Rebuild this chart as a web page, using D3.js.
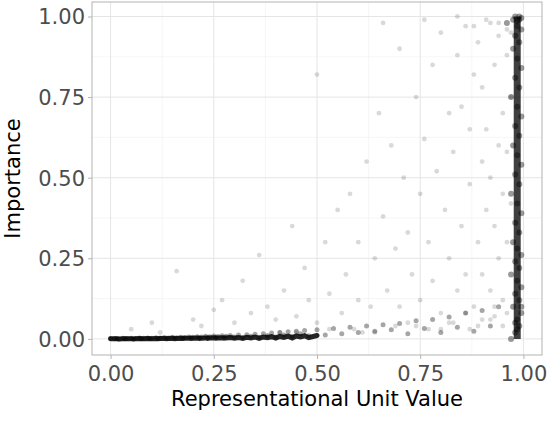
<!DOCTYPE html>
<html><head><script src="https://cdn.jsdelivr.net/npm/d3@7"></script>
<style>body{margin:0;background:#fff}</style></head><body>
<svg id="c" width="548" height="446"></svg>
<script>
const bandX=[0.00,0.01,0.015,0.02,0.03,0.035,0.04,0.05,0.055,0.06,0.07,0.075,0.08,0.09,0.095,0.10,0.11,0.115,0.12,0.13,0.135,0.14,0.15,0.155,0.16,0.17,0.175,0.18,0.19,0.195,0.20,0.21,0.215,0.22,0.23,0.235,0.24,0.25,0.255,0.26,0.27,0.275,0.28,0.29,0.30,0.31,0.32,0.33,0.34,0.35,0.36,0.37,0.38,0.39,0.40,0.41,0.42,0.43,0.44,0.45,0.46,0.47,0.48,0.50,0.52,0.54,0.56,0.58,0.60,0.62,0.64,0.66,0.68,0.70,0.72,0.74,0.76,0.78,0.80,0.82,0.84,0.86,0.88,0.90,0.92,0.94];
const bandY=[0.002,0.001,0.003,0.0,0.004,0.001,0.002,0.005,0.0,0.003,0.006,0.001,0.004,0.007,0.002,0.005,0.008,0.003,0.006,0.01,0.004,0.007,0.012,0.005,0.009,0.013,0.006,0.011,0.015,0.008,0.012,0.017,0.009,0.014,0.02,0.011,0.016,0.022,0.013,0.018,0.025,0.012,0.02,0.027,0.015,0.03,0.01,0.033,0.02,0.036,0.012,0.04,0.025,0.045,0.015,0.05,0.03,0.055,0.02,0.06,0.04,0.065,0.025,0.07,0.03,0.08,0.04,0.09,0.05,0.1,0.06,0.11,0.07,0.12,0.04,0.14,0.08,0.15,0.05,0.17,0.09,0.2,0.06,0.22,0.1,0.25];
const edgeX=[0.97,0.98,0.99,0.985,0.995,0.975,0.99,0.98,0.995,0.985,0.97,0.99,0.98,0.995,0.985,0.975,0.99,0.98,0.995,0.985,0.97,0.99,0.98,0.995,0.985,0.975,0.99,0.98,0.995,0.985,0.97,0.99,0.98,0.995,0.985,0.975,0.99,0.98,0.995,0.985,0.96,0.99,0.98,0.995,0.985,0.975,0.99,0.98,0.995,0.985];
const edgeY=[0.0,0.02,0.04,0.06,0.08,0.1,0.12,0.14,0.16,0.18,0.2,0.22,0.24,0.26,0.28,0.3,0.33,0.36,0.39,0.42,0.45,0.48,0.51,0.54,0.57,0.6,0.63,0.66,0.69,0.72,0.75,0.78,0.81,0.84,0.87,0.9,0.92,0.94,0.96,0.97,0.98,0.99,1.0,0.995,0.985,0.99,1.0,0.05,0.1,0.03];
const scatX=[0.05,0.1,0.12,0.16,0.2,0.22,0.25,0.27,0.3,0.32,0.34,0.36,0.38,0.4,0.42,0.44,0.45,0.47,0.48,0.5,0.5,0.52,0.53,0.55,0.56,0.57,0.58,0.6,0.6,0.62,0.63,0.64,0.65,0.66,0.67,0.68,0.69,0.7,0.7,0.71,0.72,0.73,0.74,0.75,0.75,0.76,0.77,0.78,0.78,0.79,0.8,0.8,0.81,0.82,0.82,0.83,0.84,0.84,0.85,0.85,0.86,0.86,0.87,0.87,0.88,0.88,0.89,0.89,0.9,0.9,0.9,0.91,0.91,0.92,0.92,0.92,0.93,0.93,0.94,0.94,0.94,0.95,0.95,0.95,0.96,0.96,0.96,0.97,0.97,0.97,0.72,0.8,0.86,0.9,0.93,0.95,0.66,0.76,0.84,0.88,0.91,0.94,0.96,0.45,0.59,0.64,0.74,0.82,0.87,0.92,0.96,0.38,0.41,0.53,0.61,0.69,0.77,0.83,0.89,0.93];
const scatY=[0.03,0.05,0.02,0.21,0.06,0.04,0.09,0.12,0.05,0.18,0.08,0.26,0.1,0.06,0.15,0.35,0.07,0.22,0.12,0.82,0.05,0.3,0.14,0.4,0.08,0.2,0.45,0.12,0.3,0.55,0.1,0.25,0.7,0.38,0.15,0.6,0.28,0.9,0.1,0.5,0.33,0.2,0.75,0.45,0.12,0.62,0.3,0.85,0.18,0.52,0.95,0.08,0.4,0.7,0.25,0.58,0.88,0.15,0.35,0.72,0.97,0.2,0.48,0.65,0.82,0.1,0.3,0.92,0.55,0.2,0.78,0.4,0.65,0.98,0.15,0.5,0.35,0.85,0.6,0.25,0.94,0.45,0.7,0.12,0.88,0.3,0.58,0.75,0.42,0.95,0.05,0.03,0.08,0.06,0.1,0.04,0.98,0.99,1.0,0.97,0.99,0.98,0.96,0.02,0.03,0.02,0.04,0.05,0.03,0.06,0.08,0.01,0.02,0.03,0.02,0.04,0.03,0.05,0.04,0.07];
const xTicks=[0,0.25,0.5,0.75,1];
const yTicks=[0,0.25,0.5,0.75,1];

const svg=d3.select("#c");
const L=92,R=542,T=2,B=355;
const x=d3.scaleLinear().domain([-0.045,1.045]).range([L,R]);
const y=d3.scaleLinear().domain([-0.05,1.045]).range([B,T]);
const g=svg.append("g");
[0.125,0.375,0.625,0.875].forEach(v=>{
 g.append("line").attr("x1",x(v)).attr("x2",x(v)).attr("y1",T).attr("y2",B).attr("stroke","#f0f0f0").attr("stroke-width",0.6);
 g.append("line").attr("y1",y(v)).attr("y2",y(v)).attr("x1",L).attr("x2",R).attr("stroke","#f0f0f0").attr("stroke-width",0.6);
});
xTicks.forEach(v=>g.append("line").attr("x1",x(v)).attr("x2",x(v)).attr("y1",T).attr("y2",B).attr("stroke","#e5e5e5"));
yTicks.forEach(v=>g.append("line").attr("y1",y(v)).attr("y2",y(v)).attr("x1",L).attr("x2",R).attr("stroke","#e5e5e5"));
// dense bottom band
const bot=bandX.map((v,i)=>[v,bandY[i]]).filter(d=>d[0]<=0.5);
g.append("path").attr("d",d3.line().x(d=>x(d[0])).y(d=>y(d[1]*0.15))(bot)).attr("fill","none").attr("stroke","#000").attr("stroke-width",5).attr("stroke-linecap","round").attr("opacity",0.85);
g.selectAll("circle.b").data(bandX.map((v,i)=>[v,bandY[i]])).enter().append("circle")
 .attr("cx",d=>x(d[0])).attr("cy",d=>y(d[1]*0.4)).attr("r",2.5).attr("fill","#000").attr("opacity",0.35);
// dense right band
const edge=edgeX.map((v,i)=>[v,edgeY[i]]).sort((a,b)=>a[1]-b[1]);
g.append("path").attr("d",d3.line().x(d=>x(0.985)).y(d=>y(d[1]))(edge)).attr("fill","none").attr("stroke","#000").attr("stroke-width",7).attr("opacity",0.75);
g.selectAll("circle.e").data(edge).enter().append("circle")
 .attr("cx",d=>x(d[0])).attr("cy",d=>y(d[1])).attr("r",3).attr("fill","#000").attr("opacity",0.4);
const pts=scatX.map((v,i)=>[v,scatY[i]]);
g.selectAll("circle.p").data(pts).enter().append("circle")
 .attr("cx",d=>x(d[0])).attr("cy",d=>y(d[1])).attr("r",2.4).attr("fill","#000").attr("opacity",0.15);
g.append("rect").attr("x",L).attr("y",T).attr("width",R-L).attr("height",B-T).attr("fill","none").attr("stroke","#b3b3b3");
const ax=svg.append("g").attr("transform",`translate(0,${B})`).call(d3.axisBottom(x).tickValues(xTicks).tickFormat(d3.format(".2f")).tickSize(4));
const ay=svg.append("g").attr("transform",`translate(${L},0)`).call(d3.axisLeft(y).tickValues(yTicks).tickFormat(d3.format(".2f")).tickSize(4));
[ax,ay].forEach(a=>{a.select(".domain").remove();a.selectAll("line").attr("stroke","#b3b3b3");
 a.selectAll("text").attr("fill","#4d4d4d").style("font-family","DejaVu Sans").style("font-size","21px");});
ax.selectAll("text").attr("dy","0.9em");
ay.selectAll("text").attr("dy","0.35em");
svg.append("text").attr("x",(L+R)/2).attr("y",406).attr("text-anchor","middle").style("font-family","DejaVu Sans").style("font-size","21px").text("Representational Unit Value");
svg.append("text").attr("transform",`translate(20,${(T+B)/2}) rotate(-90)`).attr("text-anchor","middle").style("font-family","DejaVu Sans").style("font-size","21px").text("Importance");
</script></body></html>
